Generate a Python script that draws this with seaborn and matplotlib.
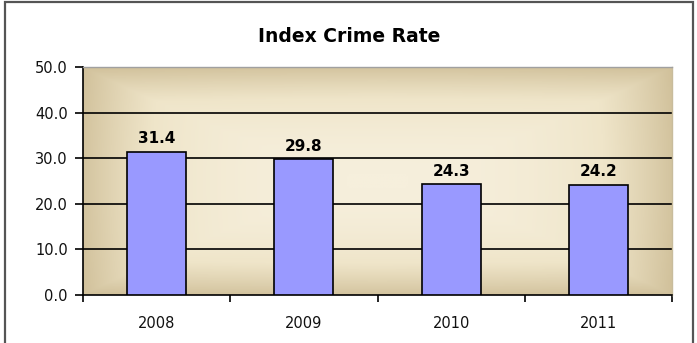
import numpy as np
import pandas as pd
import seaborn as sns
import matplotlib.pyplot as plt
from matplotlib.colors import LinearSegmentedColormap
from matplotlib.patches import Rectangle

years = ["2008", "2009", "2010", "2011"]
rates = [31.4, 29.8, 24.3, 24.2]
yticks = [0, 10, 20, 30, 40, 50]

sns.set_theme(style="white")
plt.rcParams["font.family"] = ["DejaVu Sans"]
plt.rcParams["text.color"] = "black"

df = pd.DataFrame({"year": years, "rate": rates})

fig = plt.figure(figsize=(6.97, 3.43), dpi=100)
fig.patch.set_facecolor("white")
# outer chart border
fig.patches.append(Rectangle((5 / 697, -0.05), 688 / 697, 1.05 - 2 / 343,
                             transform=fig.transFigure, fill=False,
                             edgecolor="#555555", linewidth=1.6))

ax = fig.add_axes([83 / 697, 48 / 343, 589 / 697, 228 / 343])

# beige "from centre" gradient backdrop
gx, gy = np.meshgrid(np.linspace(-1, 1, 300), np.linspace(-1, 1, 150))
shade = np.clip(np.maximum(np.abs(gx) ** 2.5, np.abs(gy) ** 2) * 0.9 + 0.1 * (gx ** 2 + gy ** 2) / 2, 0, 1)
cmap = LinearSegmentedColormap.from_list("beige", ["#f6efdc", "#efe5c9", "#d1c19b"])
ax.imshow(shade, cmap=cmap, aspect="auto", extent=[-0.5, 3.5, 0, 50],
          origin="lower", zorder=0)

sns.barplot(data=df, x="year", y="rate", color="#9999ff", saturation=1,
            edgecolor="black", linewidth=1.2, width=0.4, ax=ax, zorder=3)

for y in yticks[1:-1]:
    ax.axhline(y, color="black", linewidth=1.2, zorder=1)

ax.bar_label(ax.containers[0], fmt="%.1f", padding=4, fontsize=11,
             fontweight="bold", color="black")

ax.set_xlim(-0.5, 3.5)
ax.set_ylim(0, 50)
ax.set_yticks(yticks)
ax.set_yticklabels([f"{v:.1f}" for v in yticks], fontsize=10.5, color="#111111")
ax.set_xticks([-0.5, 0.5, 1.5, 2.5, 3.5])
ax.set_xticklabels([])
ax.set_xticks(range(len(years)), minor=True)
ax.set_xticklabels(years, minor=True, fontsize=10.5, color="#111111")
ax.tick_params(axis="x", which="major", direction="out", length=5, width=1.2,
               color="black", bottom=True)
ax.tick_params(axis="x", which="minor", length=0, pad=15)
ax.tick_params(axis="y", direction="out", length=6, width=1.2, color="black",
               left=True, pad=5)
ax.set_xlabel("")
ax.set_ylabel("")

ax.spines["left"].set_color("black")
ax.spines["left"].set_linewidth(1.2)
ax.spines["bottom"].set_color("black")
ax.spines["bottom"].set_linewidth(1.2)
ax.spines["top"].set_color("#a0a0a0")
ax.spines["top"].set_linewidth(1.0)
ax.spines["right"].set_color("#c8bc9c")
ax.spines["right"].set_linewidth(1.0)

fig.text(349 / 697, 1 - 36 / 343, "Index Crime Rate", ha="center",
         va="center", fontsize=13.5, fontweight="bold", color="black")

fig.savefig("out.png", dpi=100)
